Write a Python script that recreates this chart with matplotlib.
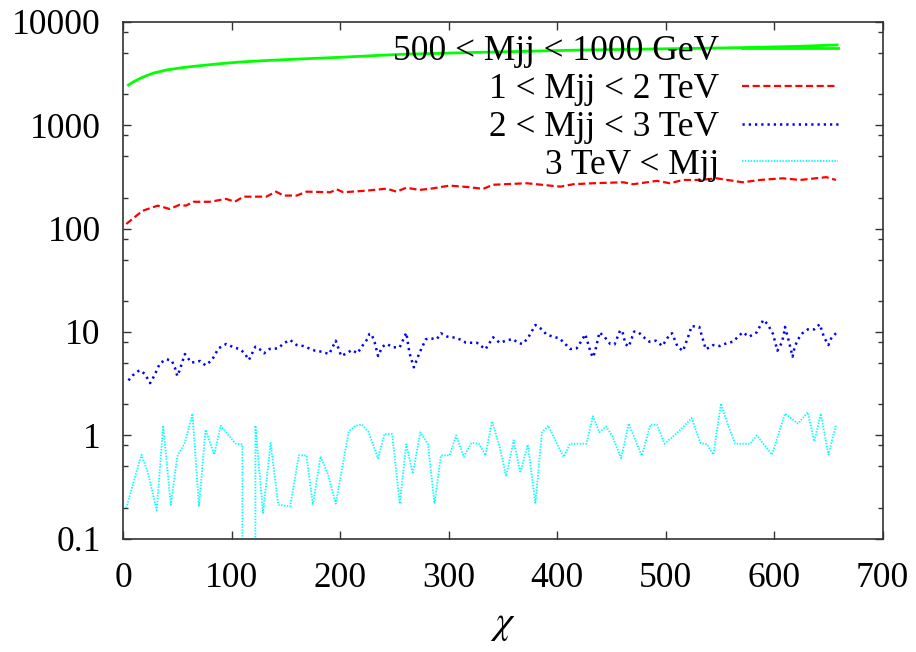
import matplotlib
matplotlib.use("Agg")
import matplotlib.pyplot as plt
from matplotlib.ticker import FixedLocator, FixedFormatter, LogLocator, NullFormatter

plt.rcParams["font.family"] = ["Liberation Serif", "DejaVu Serif"]
plt.rcParams["mathtext.fontset"] = "stix"

# dijet chi distributions in four Mjj bins
green_chi = [5, 10, 18, 28, 40, 55, 71, 90, 108, 135, 163, 200, 255, 317,
             370, 424, 500, 568, 620, 658]
green_val = [2455, 2650, 2917, 3200, 3430, 3620, 3776, 3950, 4100, 4250,
             4383, 4550, 4860, 5050, 5200, 5356, 5500, 5640, 5800, 5990]

red_chi = [3, 18, 32, 43, 52, 58, 65, 80, 95, 103, 111, 132, 141, 148, 160,
           169, 191, 197, 203, 224, 243, 252, 261, 273, 284, 301, 317, 332,
           341, 372, 381, 403, 415, 433, 461, 470, 492, 504, 516, 532, 547,
           571, 587, 608, 624, 648, 657]
red_val = [111, 149, 167, 155, 170, 167, 182, 182, 194, 182, 204, 204, 228,
           209, 209, 228, 225, 240, 225, 233, 244, 228, 249, 237, 244, 261,
           253, 243, 266, 275, 269, 255, 269, 275, 281, 269, 290, 275, 296,
           296, 307, 281, 296, 307, 296, 315, 296]

blue_chi = [5, 9, 15, 20, 25, 29, 34, 40, 45, 48, 50, 52, 57, 60, 63, 71, 76,
            82, 88, 95, 102, 108, 112, 116, 122, 126, 130, 135, 143, 148, 154,
            160, 166, 177, 183, 190, 196, 201, 206, 211, 216, 220, 225, 227,
            229, 232, 235, 239, 243, 249, 255, 261, 264, 268, 273, 279, 283,
            289, 293, 299, 306, 312, 316, 326, 334, 341, 347, 353, 359, 364,
            368, 373, 380, 386, 390, 396, 402, 407, 412, 418, 422, 426, 428,
            431, 433, 435, 439, 444, 449, 453, 458, 460, 463, 466, 471, 475,
            481, 485, 491, 497, 504, 506, 511, 516, 521, 524, 531, 537, 544,
            550, 556, 562, 571, 577, 584, 590, 594, 599, 603, 607, 609, 610,
            613, 617, 619, 622, 626, 631, 637, 642, 646, 650, 653, 657]
blue_val = [3.40, 3.81, 4.26, 3.95, 3.20, 3.81, 4.98, 5.45, 5.28, 4.45, 3.75,
            4.22, 6.12, 5.56, 5.05, 5.24, 4.76, 5.36, 6.95, 7.65, 7.11, 6.80,
            6.22, 5.36, 7.21, 6.80, 6.22, 6.85, 6.95, 7.77, 8.37, 7.48, 7.32,
            6.59, 6.45, 6.12, 8.24, 5.86, 6.22, 6.70, 6.22, 7.21, 8.50, 9.56,
            9.56, 7.87, 5.86, 7.21, 7.65, 7.11, 7.11, 9.84, 6.22, 4.55, 6.22,
            8.50, 8.69, 8.50, 9.71, 9.01, 8.81, 8.37, 7.87, 7.87, 6.80, 8.89,
            7.87, 8.24, 8.56, 7.87, 7.65, 8.69, 11.7, 10.6, 9.50, 9.01, 8.69,
            7.77, 6.85, 6.95, 8.06, 9.50, 8.06, 6.31, 5.69, 6.45, 9.93, 8.89,
            7.65, 7.60, 10.3, 10.3, 7.65, 7.21, 10.1, 9.93, 8.69, 8.06, 8.24,
            7.32, 9.56, 9.71, 7.21, 6.55, 9.15, 11.4, 11.2, 6.80, 7.48, 7.32,
            7.77, 8.06, 9.93, 9.01, 9.93, 13.1, 11.9, 9.56, 6.59, 7.87, 9.56,
            11.2, 8.56, 5.77, 7.21, 8.50, 9.71, 10.6, 10.6, 11.9, 8.89, 7.48,
            8.89, 9.71]

cyan_chi = [3, 9, 17, 23, 31, 37, 44, 50, 57, 64, 70, 76, 84, 90, 97, 104,
            110, 116, 122, 129, 136, 143, 154, 162, 169, 175, 182, 189, 196,
            208, 214, 220, 226, 235, 241, 248, 255, 261, 267, 274, 281, 287,
            293, 301, 307, 314, 321, 328, 334, 340, 347, 353, 360, 366, 373,
            380, 386, 392, 398, 406, 412, 427, 433, 439, 445, 451, 459, 466,
            478, 486, 492, 499, 512, 524, 532, 538, 544, 551, 557, 564, 578,
            584, 598, 610, 622, 631, 637, 643, 650, 657]
cyan_val = [0.198, 0.333, 0.65, 0.433, 0.188, 1.24, 0.213, 0.626, 0.844,
            1.62, 0.205, 1.135, 0.65, 1.24, 1.0, 0.83, 0.82, 0.0, 1.24, 0.177,
            0.844, 0.213, 0.205, 0.64, 0.64, 0.213, 0.626, 0.417, 0.218, 1.09,
            1.24, 1.27, 1.09, 0.60, 1.03, 1.03, 0.218, 0.82, 0.425, 1.07, 0.82,
            0.218, 0.64, 0.64, 1.0, 0.62, 0.844, 0.83, 0.64, 1.37, 0.783,
            0.401, 0.895, 0.433, 0.813, 0.218, 1.07, 1.24, 0.908, 0.618, 0.83,
            0.83, 1.53, 1.07, 1.22, 0.98, 0.60, 1.30, 0.636, 1.27, 1.27, 0.83,
            1.09, 1.47, 0.844, 0.82, 0.65, 2.03, 1.30, 0.83, 0.83, 1.0, 0.65,
            1.62, 1.30, 1.67, 0.875, 1.62, 0.65, 1.27]

labels = ["500 < Mjj < 1000 GeV", "1 < Mjj < 2 TeV", "2 < Mjj < 3 TeV",
          "3 TeV < Mjj"]
y_ticks = [0.1, 1, 10, 100, 1000, 10000]
y_tick_labels = ["0.1", "1", "10", "100", "1000", "10000"]
x_ticks = [0, 100, 200, 300, 400, 500, 600, 700]

fig = plt.figure(figsize=(9.16, 6.52), dpi=100)
ax = fig.add_axes([0.1343, 0.1738, 0.8293, 0.7925])

ax.plot(green_chi, green_val, color="#00ff00", lw=2.0, label=labels[0])
ax.plot(red_chi, red_val, color="#ff0000", lw=1.6,
        linestyle=(0, (3.2, 1.6)), label=labels[1])
ax.plot(blue_chi, blue_val, color="#0000ff", lw=1.8,
        linestyle=(0, (0.9, 1.6)), label=labels[2])
ax.plot(cyan_chi, cyan_val, color="#00ffff", lw=1.3,
        linestyle=(0, (0.8, 0.8)), label=labels[3])

ax.set_yscale("log", nonpositive="clip")
ax.set_xlim(0, 700)
ax.set_ylim(0.1, 10000)

ax.yaxis.set_major_locator(FixedLocator(y_ticks))
ax.yaxis.set_major_formatter(FixedFormatter(y_tick_labels))
ax.yaxis.set_minor_locator(LogLocator(base=10, subs=[2, 5, 8]))
ax.yaxis.set_minor_formatter(NullFormatter())
ax.xaxis.set_major_locator(FixedLocator(x_ticks))

ax.tick_params(axis="both", which="major", direction="in", length=6,
               width=1.0, color="#333333", labelsize=25.5, top=True, right=True)
ax.tick_params(axis="y", which="minor", direction="in", length=3.5,
               width=1.0, color="#333333", right=True)
ax.tick_params(axis="x", which="major", pad=17)
ax.tick_params(axis="y", which="major", pad=16)
for spine in ax.spines.values():
    spine.set_color("#333333")
    spine.set_linewidth(1.2)

ax.set_xlabel(r"$\chi$", fontsize=28, labelpad=8)

ax.legend(loc="upper right", bbox_to_anchor=(838 / 916, 1 - 35 / 652),
          bbox_transform=fig.transFigure, frameon=False, fontsize=25.5,
          markerfirst=False, handlelength=2.7, handletextpad=0.65,
          labelspacing=0.14, borderpad=0, borderaxespad=0)

fig.savefig("out.png", dpi=100)
